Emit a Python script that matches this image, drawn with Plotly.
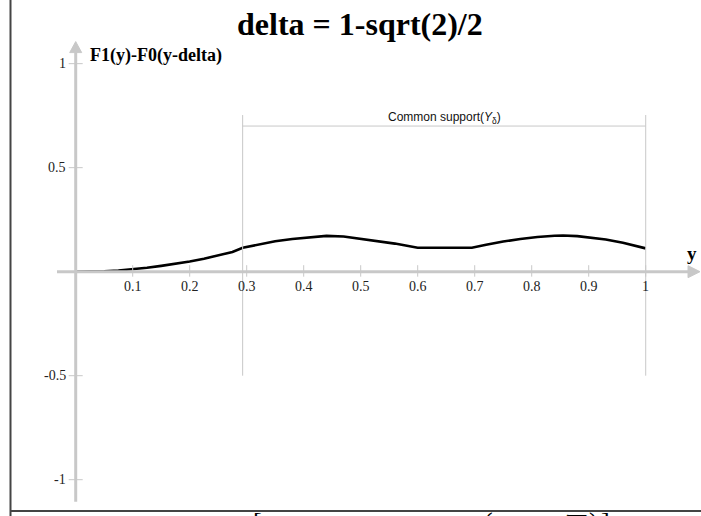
import math
import plotly.graph_objects as go

# F1(y) - F0(y - delta) sampled on [0, 1]
y_grid = [0, 0.025, 0.05, 0.075, 0.1, 0.125, 0.15, 0.175, 0.2, 0.225, 0.25, 0.275,
          0.293, 0.32, 0.35, 0.38, 0.41, 0.44, 0.47, 0.5, 0.53, 0.56, 0.6, 0.65,
          0.695, 0.72, 0.75, 0.78, 0.81, 0.84, 0.855, 0.88, 0.9, 0.93, 0.96, 1.0]
diff_vals = [0, 0, 0.002, 0.006, 0.012, 0.019, 0.028, 0.037, 0.049, 0.062, 0.077, 0.095,
             0.115, 0.131, 0.146, 0.157, 0.166, 0.172, 0.169, 0.158, 0.148, 0.135, 0.115, 0.115,
             0.115, 0.129, 0.145, 0.157, 0.167, 0.173, 0.174, 0.171, 0.165, 0.155, 0.139, 0.112]

x_ticks = [0.1, 0.2, 0.3, 0.4, 0.5, 0.6, 0.7, 0.8, 0.9, 1]
x_tick_labels = ["0.1", "0.2", "0.3", "0.4", "0.5", "0.6", "0.7", "0.8", "0.9", "1"]
y_ticks = [1, 0.5, -0.5, -1]
y_tick_labels = ["1", "0.5", "-0.5", "-1"]

delta = 1 - math.sqrt(2) / 2
support = [delta, 1.0]

W, H = 701, 516
XR = [-0.1328, 1.0970]
YR = [-1.1745, 1.306]
px_x = (XR[1] - XR[0]) / W   # data units per pixel, x
px_y = (YR[1] - YR[0]) / H   # data units per pixel, y

AXIS = "#c8c8c8"
SERIF = "Liberation Serif"
SANS = "Liberation Sans"

fig = go.Figure()
fig.add_trace(go.Scatter(x=y_grid, y=diff_vals, mode="lines",
                         line=dict(color="black", width=2.6), hoverinfo="skip"))

shapes = []
# axes with arrowheads
x_lo, x_tip = XR[0] + 57 * px_x, XR[1] - 1 * px_x
y_lo, y_tip = -1.106, 1.106
shapes.append(dict(type="line", x0=x_lo, x1=x_tip - 8 * px_x, y0=0, y1=0,
                   line=dict(color=AXIS, width=3)))
shapes.append(dict(type="path",
                   path=f"M {x_tip - 12*px_x},{6*px_y} L {x_tip},0 L {x_tip - 12*px_x},{-6*px_y} Z",
                   fillcolor=AXIS, line=dict(color=AXIS, width=1)))
shapes.append(dict(type="line", x0=0, x1=0, y0=y_lo, y1=y_tip - 8 * px_y,
                   line=dict(color=AXIS, width=3)))
shapes.append(dict(type="path",
                   path=f"M {-6*px_x},{y_tip - 11*px_y} L 0,{y_tip} L {6*px_x},{y_tip - 11*px_y} Z",
                   fillcolor=AXIS, line=dict(color=AXIS, width=1)))
# tick marks
for t in x_ticks:
    shapes.append(dict(type="line", x0=t, x1=t, y0=6.5 * px_y, y1=-5 * px_y,
                       line=dict(color=AXIS, width=1)))
for t in y_ticks:
    shapes.append(dict(type="line", x0=-7 * px_x, x1=7 * px_x, y0=t, y1=t,
                       line=dict(color=AXIS, width=1)))
# common support bracket
for s in support:
    shapes.append(dict(type="line", x0=s, x1=s, y0=-0.5, y1=0.753,
                       line=dict(color=AXIS, width=1)))
shapes.append(dict(type="line", x0=support[0], x1=support[1], y0=0.70, y1=0.70,
                   line=dict(color=AXIS, width=1)))
# outer frame
shapes.append(dict(type="line", xref="paper", yref="paper", x0=10.5 / W, x1=10.5 / W,
                   y0=-0.1, y1=1.2, line=dict(color="#444", width=2)))
shapes.append(dict(type="line", xref="paper", yref="paper", x0=10.5 / W, x1=1.2,
                   y0=(H - 511) / H, y1=(H - 511) / H, line=dict(color="#444", width=2)))

ann = []
for t, lab in zip(x_ticks, x_tick_labels):
    ann.append(dict(x=t, y=0, text=lab, showarrow=False, yshift=-15, yanchor="middle",
                    font=dict(family=SERIF, size=14, color="#222")))
for t, lab in zip(y_ticks, y_tick_labels):
    ann.append(dict(x=0, y=t, text=lab, showarrow=False, xshift=-8, xanchor="right",
                    yanchor="middle", font=dict(family=SERIF, size=14, color="#222")))
ann.append(dict(x=sum(support) / 2, y=0.70, text="Common support(<i>Y</i><sub>δ</sub>)",
                showarrow=False, yanchor="bottom", yshift=-2,
                font=dict(family=SANS, size=12, color="#111")))
ann.append(dict(x=0, y=y_tip, text="<b>F1(y)-F0(y-delta)</b>", showarrow=False,
                xanchor="left", yanchor="top", xshift=12, yshift=-1,
                font=dict(family=SERIF, size=18, color="black")))
ann.append(dict(x=x_tip, y=0, text="<b>y</b>", showarrow=False, xanchor="right",
                yanchor="bottom", xshift=-1, yshift=6,
                font=dict(family=SERIF, size=19, color="black")))
ann.append(dict(xref="paper", yref="paper", x=360 / W, y=(H - 24) / H,
                text="<b>delta = 1-sqrt(2)/2</b>", showarrow=False,
                xanchor="center", yanchor="middle",
                font=dict(family=SERIF, size=32, color="black")))

# formula line below the frame (only its top edge falls inside the page)
formula_parts = [("[", 257, 505), ("(", 488, 505), ("√‾‾", 570, 510), (")", 593, 505), ("]", 605, 505)]
for txt, xp, yp in formula_parts:
    ann.append(dict(xref="paper", yref="paper", x=xp / W, y=(H - yp) / H, text=txt,
                    showarrow=False, xanchor="center", yanchor="top",
                    font=dict(family=SERIF, size=26, color="black")))

fig.update_layout(
    width=W, height=H,
    margin=dict(l=0, r=0, t=0, b=0),
    paper_bgcolor="white", plot_bgcolor="white",
    showlegend=False,
    xaxis=dict(range=XR, visible=False, fixedrange=True),
    yaxis=dict(range=YR, visible=False, fixedrange=True),
    shapes=shapes, annotations=ann,
)
fig.write_html("out.html")
